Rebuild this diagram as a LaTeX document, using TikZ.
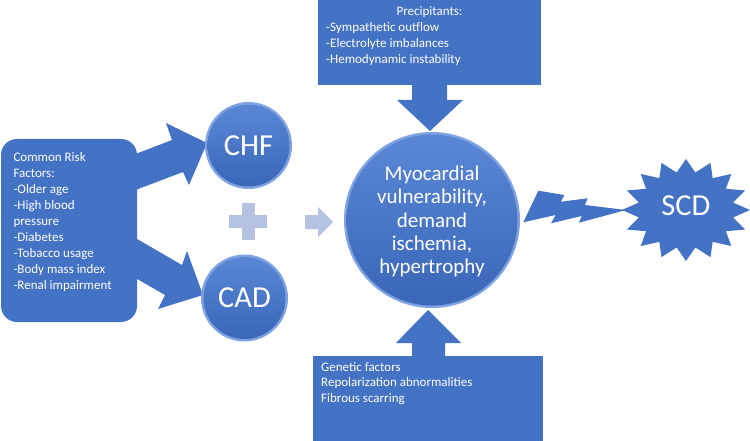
\documentclass[tikz,border=0pt]{standalone}
\usepackage{fontspec}
\setmainfont{Carlito}
\definecolor{pblue}{HTML}{4472C4}
\definecolor{rimblue}{HTML}{7FA3E2}
\definecolor{topblue}{HTML}{5A87D5}
\definecolor{botblue}{HTML}{3A66B8}
\definecolor{pale}{HTML}{B6C2E2}
\tikzset{
  shapefill/.style={fill=pblue},
  ltxt/.style={text=white, inner sep=0pt, font=\fontsize{13}{16}\selectfont},
  bigtxt/.style={text=white, inner sep=0pt, font=\fontsize{30.5}{34}\selectfont},
  midtxt/.style={text=white, inner sep=0pt, font=\fontsize{21}{24}\selectfont},
}
\newcommand{\bevelcircle}[2]{%
  \fill[rimblue] (#1) circle ({#2*1pt});
  \shade[top color=topblue, bottom color=botblue] (#1) circle ({(#2-2.5)*1pt});
}
\begin{document}
\begin{tikzpicture}[x=1pt,y=-1pt]
\useasboundingbox (0,0) rectangle (750,441);
% coordinates
\coordinate (chf) at (248.5,145.5);
\coordinate (cad) at (244.5,298);
\coordinate (main) at (432,220);
\coordinate (scd) at (686,210);

% left box
\fill[shapefill, rounded corners=16pt] (1,139) rectangle (137,322);
% arrows from box
\fill[shapefill] (125,158) -- (172,140) -- (166,123) -- (207,143) -- (189,185) -- (183,172) -- (125,194) -- cycle;
\fill[shapefill] (125,232) -- (182,265) -- (187,251) -- (203,295) -- (158,309) -- (165,295) -- (125,272) -- cycle;
\foreach \t [count=\i] in {Common Risk, Factors:, -Older age, -High blood, pressure, -Diabetes, -Tobacco usage, -Body mass index, -Renal impairment}
  \node[ltxt, anchor=base west] (rf\i) at ({13.3},{161.7+15.95*(\i-1)}) {\t};

% CHF / CAD circles
\bevelcircle{chf}{43.5}
\bevelcircle{cad}{43.5}
\node[bigtxt] (chft) at (chf) {CHF};
\node[bigtxt] (cadt) at (cad) {CAD};

% plus and small arrow
\fill[pale] (229,215) rectangle (267,228);
\fill[pale] (242,203) rectangle (255,240);
\fill[pale] (305,215) -- (318,215) -- (318,207) -- (333,222) -- (318,237) -- (318,229) -- (305,229) -- cycle;

% top box and down arrow
\fill[shapefill] (318,0) rectangle (541,85);
\fill[shapefill] (412,84) -- (447,84) -- (447,100) -- (463,100) -- (430,131) -- (397,100) -- (412,100) -- cycle;
\node[ltxt, anchor=base] (pt0) at (429.5,16) {Precipitants:};
\foreach \t [count=\i] in {-Sympathetic outflow, -Electrolyte imbalances, -Hemodynamic instability}
  \node[ltxt, anchor=base west] (pt\i) at ({326},{16+15.7*\i}) {\t};

% bottom box and up arrow
\fill[shapefill] (313,356) rectangle (543,441);
\fill[shapefill] (412,357) -- (445,357) -- (445,343) -- (461,343) -- (428,310) -- (396,343) -- (412,343) -- cycle;
\foreach \t [count=\i] in {Genetic factors, Repolarization abnormalities, Fibrous scarring}
  \node[ltxt, anchor=base west] (gf\i) at ({321},{371+15.7*(\i-1)}) {\t};

% main circle
\bevelcircle{main}{88}
\foreach \t [count=\i] in {Myocardial, {vulnerability,}, demand, {ischemia,}, hypertrophy}
  \node[midtxt, anchor=base] (m\i) at ({432},{180.7+23.3*(\i-1)}) {\t};

% lightning bolt
\fill[shapefill] (523.3,222.3) -- (538.3,190.7) -- (564.3,195) -- (561,201.7) -- (587.7,198.3) -- (585,205) -- (626,210) -- (579,222.7) -- (581.7,216) -- (551,223.3) -- (555.7,215) -- cycle;

% SCD star
\fill[shapefill] (686,159)
  \foreach \k in {0,...,15} {
    -- ({686+48*cos(90+22.5*\k+11.25)},{210-38.25*sin(90+22.5*\k+11.25)})
    -- ({686+64*cos(90+22.5*(\k+1))},{210-51*sin(90+22.5*(\k+1))})
  } -- cycle;
\node[bigtxt] (scdt) at (686,206) {SCD};
\end{tikzpicture}
\end{document}
